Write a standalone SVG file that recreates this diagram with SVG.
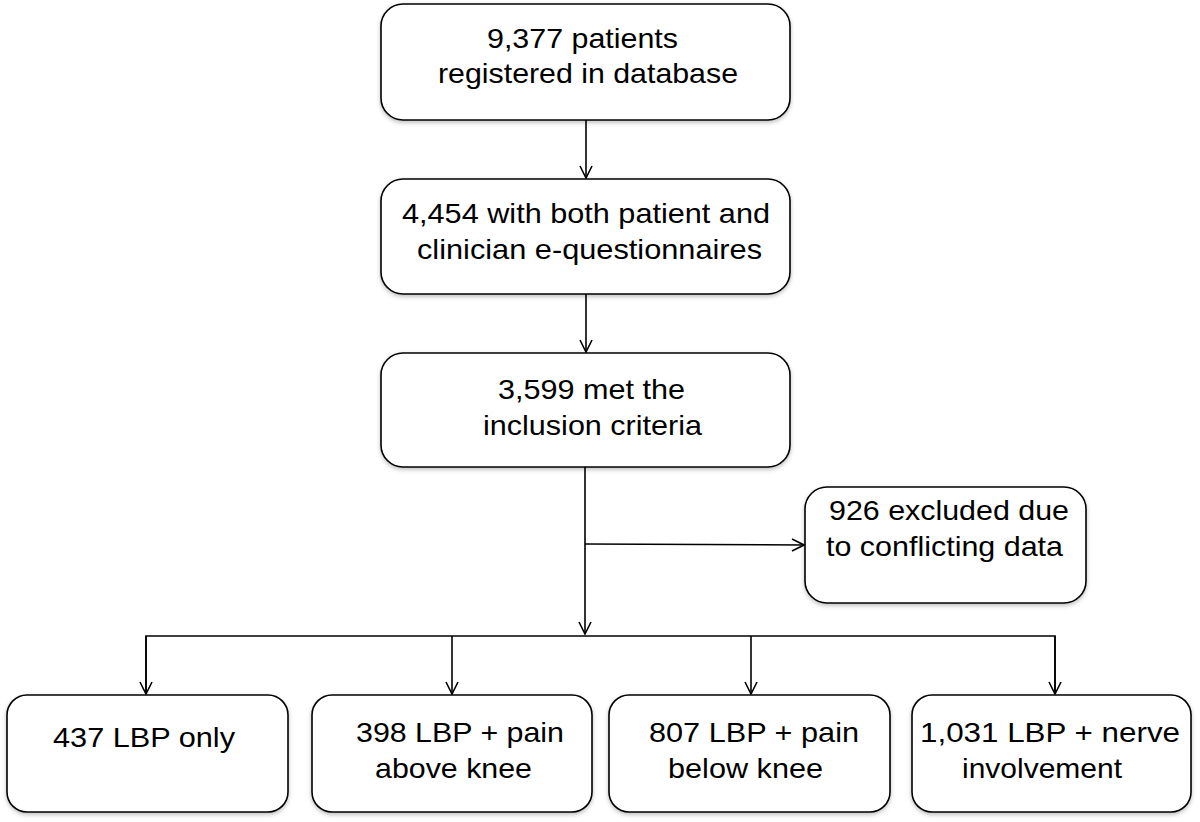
<svg xmlns="http://www.w3.org/2000/svg" width="1200" height="822" viewBox="0 0 1200 822">
<defs>
<marker id="arr" viewBox="0 0 14 14" refX="13" refY="7" markerWidth="14" markerHeight="14" markerUnits="userSpaceOnUse" orient="auto">
<path d="M1,1 L13,7 L1,13" fill="none" stroke="#000" stroke-width="1.6"/>
</marker>
<filter id="sh" x="-5%" y="-5%" width="110%" height="115%">
<feDropShadow dx="0" dy="2" stdDeviation="2" flood-color="#000" flood-opacity="0.25"/>
</filter>
</defs>
<style>
.box{fill:#fff;stroke:#000;stroke-width:1.6;filter:url(#sh)}
.t{font-family:"Liberation Sans",Arial,sans-serif;font-size:28px;fill:#000}
.c{fill:none;stroke:#000;stroke-width:1.6}
</style>
<rect width="1200" height="822" fill="#fff"/>
<g id="n1"><rect class="box" x="381" y="4" width="409" height="116" rx="22"/>
<text class="t" x="487" y="48" textLength="191" lengthAdjust="spacingAndGlyphs">9,377 patients</text>
<text class="t" x="438" y="83" textLength="300" lengthAdjust="spacingAndGlyphs">registered in database</text></g>
<g id="n2"><rect class="box" x="381" y="179" width="409" height="115" rx="22"/>
<text class="t" x="402" y="223" textLength="368" lengthAdjust="spacingAndGlyphs">4,454 with both patient and</text>
<text class="t" x="417" y="259" textLength="345" lengthAdjust="spacingAndGlyphs">clinician e-questionnaires</text></g>
<g id="n3"><rect class="box" x="381" y="353" width="409" height="114" rx="22"/>
<text class="t" x="498" y="399" textLength="187" lengthAdjust="spacingAndGlyphs">3,599 met the</text>
<text class="t" x="483" y="435" textLength="219" lengthAdjust="spacingAndGlyphs">inclusion criteria</text></g>
<g id="n4"><rect class="box" x="805" y="487" width="281" height="116" rx="22"/>
<text class="t" x="829" y="520" textLength="240" lengthAdjust="spacingAndGlyphs">926 excluded due</text>
<text class="t" x="826" y="556" textLength="237" lengthAdjust="spacingAndGlyphs">to conflicting data</text></g>
<g id="n5"><rect class="box" x="7" y="695" width="281" height="117" rx="20"/>
<text class="t" x="53" y="747" textLength="182" lengthAdjust="spacingAndGlyphs">437 LBP only</text></g>
<g id="n6"><rect class="box" x="312" y="695" width="280" height="117" rx="20"/>
<text class="t" x="356" y="742" textLength="208" lengthAdjust="spacingAndGlyphs">398 LBP + pain</text>
<text class="t" x="375" y="778" textLength="157" lengthAdjust="spacingAndGlyphs">above knee</text></g>
<g id="n7"><rect class="box" x="609" y="695" width="281" height="117" rx="20"/>
<text class="t" x="649" y="742" textLength="210" lengthAdjust="spacingAndGlyphs">807 LBP + pain</text>
<text class="t" x="668" y="778" textLength="155" lengthAdjust="spacingAndGlyphs">below knee</text></g>
<g id="n8"><rect class="box" x="912" y="695" width="279" height="117" rx="20"/>
<text class="t" x="920" y="742" textLength="260" lengthAdjust="spacingAndGlyphs">1,031 LBP + nerve</text>
<text class="t" x="962" y="778" textLength="160" lengthAdjust="spacingAndGlyphs">involvement</text></g>
<g id="connectors">
<line class="c" x1="586" y1="120" x2="586" y2="178" marker-end="url(#arr)"/>
<line class="c" x1="586" y1="294" x2="586" y2="352" marker-end="url(#arr)"/>
<line class="c" x1="585" y1="467" x2="585" y2="634" marker-end="url(#arr)"/>
<line class="c" x1="585" y1="544" x2="804" y2="545" marker-end="url(#arr)"/>
<polyline class="c" points="146,693 146,636 1055,636 1055,693"/>
<line class="c" x1="146" y1="636" x2="146" y2="694" marker-end="url(#arr)"/>
<line class="c" x1="452" y1="636" x2="452" y2="694" marker-end="url(#arr)"/>
<line class="c" x1="751" y1="636" x2="751" y2="694" marker-end="url(#arr)"/>
<line class="c" x1="1055" y1="636" x2="1055" y2="694" marker-end="url(#arr)"/>
</g>
</svg>
